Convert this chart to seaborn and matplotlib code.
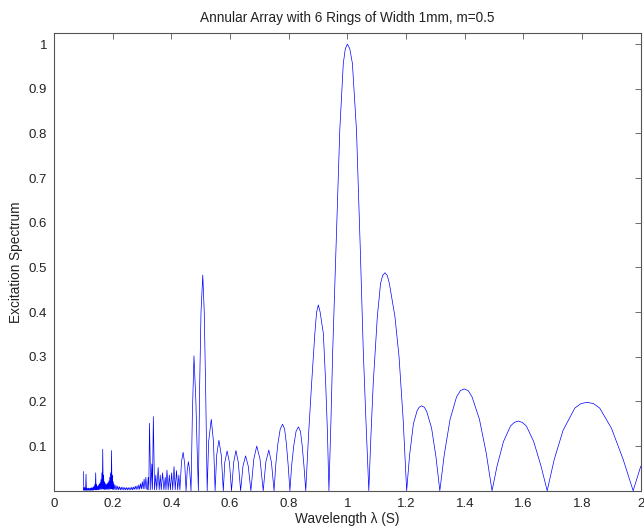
import numpy as np
import pandas as pd
import matplotlib
matplotlib.use("Agg")
import matplotlib.pyplot as plt
import seaborn as sns

# ---- data (wavelength, excitation spectrum) ----
# dense high-frequency region 0.10 - 0.205
x_dense = [0.100, 0.1015, 0.103, 0.1045, 0.106, 0.1075, 0.109, 0.1105, 0.112, 0.1135,
           0.115, 0.1165, 0.118, 0.1195, 0.121, 0.1225, 0.124, 0.1255, 0.127, 0.1285,
           0.130, 0.1315, 0.133, 0.1345, 0.136, 0.1375, 0.139, 0.1405, 0.142, 0.1435,
           0.145, 0.1465, 0.148, 0.1495, 0.151, 0.1525, 0.154, 0.1555, 0.157, 0.1585,
           0.160, 0.1615, 0.163, 0.1645, 0.166, 0.1675, 0.169, 0.1705, 0.172, 0.1735,
           0.175, 0.1765, 0.178, 0.1795, 0.181, 0.1825, 0.184, 0.1855, 0.187, 0.1885,
           0.190, 0.1915, 0.193, 0.1945, 0.196, 0.1975, 0.199, 0.2005, 0.202, 0.2035,
           0.205]
y_dense = [0.043, 0.001, 0.008, 0.001, 0.006, 0.001, 0.037, 0.001, 0.006, 0.001,
           0.005, 0.001, 0.006, 0.001, 0.005, 0.001, 0.006, 0.001, 0.007, 0.001,
           0.006, 0.001, 0.008, 0.001, 0.010, 0.002, 0.014, 0.002, 0.040, 0.002,
           0.014, 0.002, 0.010, 0.002, 0.012, 0.002, 0.015, 0.003, 0.018, 0.003,
           0.025, 0.003, 0.040, 0.004, 0.093, 0.004, 0.035, 0.003, 0.020, 0.003,
           0.016, 0.003, 0.014, 0.003, 0.016, 0.003, 0.018, 0.003, 0.022, 0.003,
           0.030, 0.004, 0.040, 0.004, 0.090, 0.004, 0.035, 0.003, 0.020, 0.003,
           0.014]

# low band 0.208 - 0.316
x_band = [0.208, 0.211, 0.214, 0.217, 0.220, 0.223, 0.226, 0.229, 0.232, 0.235,
          0.238, 0.241, 0.244, 0.247, 0.250, 0.253, 0.256, 0.259, 0.262, 0.265,
          0.268, 0.271, 0.274, 0.277, 0.280, 0.283, 0.286, 0.289, 0.292, 0.295,
          0.298, 0.301, 0.304, 0.307, 0.310, 0.313, 0.316]
y_band = [0.002, 0.012, 0.002, 0.010, 0.002, 0.009, 0.002, 0.008, 0.002, 0.008,
          0.002, 0.007, 0.002, 0.007, 0.002, 0.007, 0.002, 0.007, 0.002, 0.008,
          0.002, 0.008, 0.003, 0.010, 0.003, 0.011, 0.003, 0.013, 0.003, 0.016,
          0.004, 0.020, 0.004, 0.026, 0.004, 0.030, 0.005]

# spikes and small lobes 0.318 - 0.467
x_mid = [0.318, 0.321, 0.323, 0.3255, 0.3295, 0.3335, 0.3355, 0.3385, 0.3425,
         0.347, 0.350, 0.355, 0.3585, 0.362, 0.3655, 0.370, 0.3745, 0.379, 0.3815,
         0.385, 0.389, 0.393, 0.3965, 0.401, 0.4045, 0.409, 0.413, 0.4175, 0.4215,
         0.4255, 0.429, 0.4345, 0.440, 0.4455, 0.450, 0.454, 0.458, 0.4625, 0.467]
y_mid = [0.002, 0.030, 0.002, 0.151, 0.002, 0.060, 0.003, 0.166, 0.002,
         0.035, 0.002, 0.052, 0.002, 0.035, 0.002, 0.040, 0.002, 0.030, 0.002,
         0.046, 0.002, 0.035, 0.002, 0.040, 0.002, 0.054, 0.002, 0.045, 0.002,
         0.035, 0.002, 0.065, 0.086, 0.060, 0.000, 0.045, 0.065, 0.045, 0.000]

# main lobes 0.467 - 2.0
x_main = [0.4715, 0.477, 0.4835, 0.4875, 0.492,
          0.4965, 0.501, 0.507, 0.512, 0.5165, 0.522,
          0.527, 0.536, 0.5435, 0.549,
          0.5545, 0.562, 0.570, 0.577,
          0.582, 0.590, 0.598, 0.605,
          0.6125, 0.620, 0.628, 0.636,
          0.644, 0.653, 0.662, 0.671,
          0.681, 0.691, 0.702, 0.713,
          0.722, 0.732, 0.741, 0.750,
          0.756, 0.763, 0.771, 0.779, 0.786, 0.792, 0.798, 0.804,
          0.810, 0.817, 0.825, 0.833, 0.840, 0.846, 0.852, 0.858,
          0.868, 0.878, 0.889, 0.895, 0.901, 0.907, 0.918, 0.926, 0.932, 0.937,
          0.944, 0.950, 0.961, 0.974, 0.986, 0.993, 1.000, 1.008, 1.017, 1.031,
          1.044, 1.054, 1.063, 1.073,
          1.080, 1.088, 1.102, 1.113, 1.120, 1.128, 1.136, 1.143, 1.162, 1.176,
          1.190, 1.202,
          1.212, 1.225, 1.238, 1.245, 1.253, 1.262, 1.270, 1.287, 1.302, 1.315,
          1.330, 1.350, 1.372, 1.385, 1.398, 1.412, 1.425, 1.450, 1.473, 1.493,
          1.510, 1.532, 1.556, 1.569, 1.582, 1.596, 1.610, 1.635, 1.660, 1.681,
          1.705, 1.735, 1.775, 1.796, 1.817, 1.839, 1.860, 1.900, 1.940, 1.974,
          2.000]
y_main = [0.170, 0.302, 0.200, 0.100, 0.000,
          0.240, 0.400, 0.483, 0.400, 0.240, 0.000,
          0.110, 0.160, 0.110, 0.000,
          0.080, 0.113, 0.080, 0.000,
          0.063, 0.089, 0.063, 0.000,
          0.064, 0.090, 0.064, 0.000,
          0.055, 0.078, 0.055, 0.000,
          0.071, 0.100, 0.071, 0.000,
          0.064, 0.091, 0.064, 0.000,
          0.060, 0.105, 0.138, 0.149, 0.138, 0.105, 0.058, 0.000,
          0.057, 0.100, 0.133, 0.143, 0.133, 0.100, 0.055, 0.000,
          0.130, 0.240, 0.352, 0.400, 0.416, 0.400, 0.352, 0.240, 0.130, 0.000,
          0.160, 0.315, 0.539, 0.807, 0.957, 0.990, 1.000, 0.990, 0.957, 0.807,
          0.539, 0.315, 0.160, 0.000,
          0.120, 0.240, 0.390, 0.464, 0.482, 0.488, 0.482, 0.464, 0.390, 0.300,
          0.160, 0.000,
          0.080, 0.150, 0.180, 0.187, 0.190, 0.187, 0.178, 0.140, 0.075, 0.000,
          0.080, 0.160, 0.210, 0.224, 0.228, 0.224, 0.210, 0.160, 0.085, 0.000,
          0.055, 0.110, 0.145, 0.153, 0.156, 0.153, 0.145, 0.110, 0.055, 0.000,
          0.070, 0.135, 0.185, 0.195, 0.198, 0.195, 0.185, 0.140, 0.070, 0.000,
          0.055]

x_ticks = [0, 0.2, 0.4, 0.6, 0.8, 1.0, 1.2, 1.4, 1.6, 1.8, 2.0]
x_tick_labels = ["0", "0.2", "0.4", "0.6", "0.8", "1", "1.2", "1.4", "1.6", "1.8", "2"]
y_ticks = [0.1, 0.2, 0.3, 0.4, 0.5, 0.6, 0.7, 0.8, 0.9, 1.0]
y_tick_labels = ["0.1", "0.2", "0.3", "0.4", "0.5", "0.6", "0.7", "0.8", "0.9", "1"]

df = pd.DataFrame({
    "wavelength": x_dense + x_band + x_mid + x_main,
    "spectrum": y_dense + y_band + y_mid + y_main,
})

sns.set_theme(style="white")
plt.rcParams["font.family"] = ["Liberation Sans", "DejaVu Sans"]

fig = plt.figure(figsize=(6.44, 5.32), dpi=100)
ax = fig.add_axes([0.0839, 0.0776, 0.9111, 0.8604])

sns.lineplot(data=df, x="wavelength", y="spectrum", sort=False, estimator=None,
             color="#0000ff", linewidth=0.5, ax=ax)

ax.set_xlim(0, 2)
ax.set_ylim(0, 1.025)
ax.set_xticks(x_ticks)
ax.set_xticklabels(x_tick_labels)
ax.set_yticks(y_ticks)
ax.set_yticklabels(y_tick_labels)
ax.tick_params(direction="in", length=4, width=0.6, color="#555555",
               top=True, right=True, labelsize=9.5, labelcolor="#222222", pad=5)
for sp in ax.spines.values():
    sp.set_visible(True)
    sp.set_color("#555555")
    sp.set_linewidth(0.8)

ax.set_title("Annular Array with 6 Rings of Width 1mm, m=0.5", fontsize=9.8, color="#222222", pad=8)
ax.set_xlabel("Wavelength λ (S)", fontsize=9.8, color="#222222", labelpad=2)
ax.set_ylabel("Excitation Spectrum", fontsize=9.8, color="#222222", labelpad=4)

fig.savefig("out.png", dpi=100)
